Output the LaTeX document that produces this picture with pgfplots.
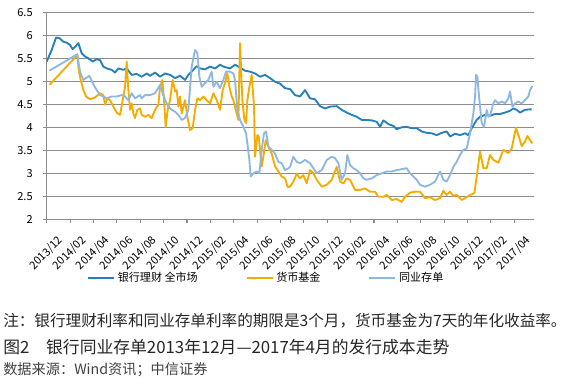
\documentclass[border=0pt]{standalone}
\usepackage{fontspec}
\setmainfont{Noto Sans CJK SC}
\usepackage{pgfplots}
\pgfplotsset{compat=1.18}
\definecolor{wmp}{RGB}{38,128,188}
\definecolor{mmf}{RGB}{245,172,0}
\definecolor{ncd}{RGB}{142,184,224}
\definecolor{gridc}{RGB}{140,140,140}
\begin{document}
\begin{tikzpicture}
\useasboundingbox (0pt,0pt) rectangle (428.25pt,-291.75pt);
\begin{axis}[
  at={(35.025pt,-164.475pt)}, anchor=south west,
  scale only axis, width=365.5pt, height=155.25pt,
  xmin=140, xmax=1602, ymin=2, ymax=6.5,
  axis x line*=bottom, axis y line*=left,
  axis line style={gridc, line width=0.8pt},
  ymajorgrids, grid style={gridc, line width=0.8pt},
  tick align=outside, major tick length=3pt,
  tick style={gridc, line width=0.8pt},
  ytick={2,2.5,3,3.5,4,4.5,5,5.5,6,6.5},
  yticklabels={2,2.5,3,3.5,4,4.5,5,5.5,6,6.5},
  xtick={140,210.14,280.28,350.42,420.56,490.7,560.84,630.98,701.12,771.26,841.4,911.54,981.68,1051.82,1121.96,1192.1,1262.24,1332.38,1402.52,1472.66,1542.8},
  xticklabels={2013/12,2014/02,2014/04,2014/06,2014/08,2014/10,2014/12,2015/02,2015/04,2015/06,2015/08,2015/10,2015/12,2016/02,2016/04,2016/06,2016/08,2016/10,2016/12,2017/02,2017/04},
  x tick label style={rotate=45, anchor=north east, inner sep=0pt, yshift=-11.5pt, xshift=-0.5pt, font=\fontsize{8.3}{9}\selectfont},
  y tick label style={font=\fontsize{8.3}{9}\selectfont, xshift=-4pt},
  /pgf/number format/assume math mode=true,
  legend columns=3,
  legend style={at={(0.0827,-0.282)}, anchor=west, draw=none, fill=none, inner sep=0pt,
    font=\fontsize{8.3}{10}\selectfont,
    /tikz/every even column/.append style={column sep=34pt}},
  legend image code/.code={\draw[#1, line width=1.4pt] (0pt,0pt) -- (19.5pt,0pt);},
  every axis plot/.append style={line width=1.4pt, line join=round},
]
\addplot[wmp, no markers] coordinates {
(140,5.43)(155,5.68)(168,5.95)(178,5.94)(190,5.86)(200,5.84)(210,5.79)(218,5.70)(225,5.75)(235,5.83)
(245,5.61)(255,5.54)(265,5.50)(278,5.43)(290,5.48)(300,5.46)(310,5.32)(320,5.28)(335,5.25)(345,5.19)
(355,5.28)(370,5.25)(380,5.28)(395,5.14)(410,5.16)(425,5.10)(440,5.17)(450,5.12)(465,5.19)(480,5.10)
(495,5.17)(510,5.14)(525,5.07)(540,5.12)(555,5.03)(565,5.14)(575,5.21)(590,5.33)(600,5.28)(615,5.26)
(630,5.32)(645,5.28)(660,5.36)(670,5.32)(690,5.28)(705,5.36)(720,5.30)(735,5.23)(750,5.21)(765,5.17)
(780,5.10)(795,5.14)(810,5.07)(825,4.99)(840,4.95)(855,4.85)(870,4.83)(885,4.70)(900,4.67)(915,4.81)
(930,4.63)(945,4.61)(960,4.46)(975,4.41)(990,4.45)(1010,4.46)(1025,4.38)(1040,4.32)(1055,4.27)(1070,4.23)
(1085,4.16)(1100,4.16)(1115,4.15)(1130,4.12)(1140,4.01)(1150,4.15)(1165,4.07)(1180,4.03)(1190,3.96)(1205,4.00)
(1220,4.01)(1235,3.98)(1250,3.98)(1265,3.91)(1280,3.88)(1295,3.87)(1310,3.83)(1325,3.88)(1340,3.91)(1350,3.80)
(1365,3.86)(1380,3.83)(1395,3.87)(1405,3.83)(1415,3.98)(1430,4.16)(1440,4.23)(1455,4.27)(1470,4.25)(1485,4.29)
(1500,4.29)(1515,4.32)(1530,4.36)(1540,4.41)(1550,4.38)(1560,4.32)(1575,4.38)(1590,4.39)(1595,4.39)
};
\addlegendentry{银行理财 全市场}
\addplot[mmf, no markers] coordinates {
(148,4.92)(232,5.57)(236,5.25)(242,5.03)(250,4.81)(258,4.67)(270,4.61)(285,4.65)(300,4.74)(310,4.70)
(315,4.49)(322,4.63)(330,4.59)(340,4.45)(350,4.32)(360,4.27)(368,4.59)(375,4.88)(380,5.43)(385,4.81)
(390,4.38)(395,4.52)(400,4.30)(405,4.20)(412,4.38)(420,4.41)(425,4.27)(435,4.23)(445,4.27)(455,4.20)
(465,4.38)(475,4.49)(480,4.88)(487,5.03)(492,4.59)(497,4.01)(503,4.38)(510,4.59)(518,5.03)(525,4.78)
(530,4.81)(535,4.45)(540,4.67)(545,4.30)(555,4.59)(562,4.23)(570,3.94)(578,3.98)(585,4.38)(592,4.63)
(600,4.59)(610,4.67)(620,4.59)(630,4.52)(640,4.74)(650,4.59)(660,4.38)(668,4.81)(675,4.96)(682,5.17)
(688,4.88)(695,4.67)(700,4.59)(710,4.30)(715,4.16)(720,5.83)(727,4.59)(733,4.16)(738,4.09)(742,4.59)
(748,4.88)(755,5.14)(762,4.45)(765,3.36)(772,3.83)(776,3.80)(780,3.51)(785,3.15)(790,3.36)(797,3.72)
(805,3.58)(815,3.43)(825,3.15)(835,3.04)(845,2.93)(855,2.89)(863,2.70)(870,2.71)(880,2.82)(890,2.99)
(900,2.89)(910,2.96)(920,2.78)(930,3.07)(940,3.00)(950,2.86)(965,2.71)(980,2.75)(995,2.86)(1010,3.14)
(1020,2.82)(1030,2.78)(1040,2.89)(1050,2.86)(1065,2.64)(1080,2.64)(1095,2.67)(1110,2.60)(1125,2.60)(1135,2.49)
(1150,2.49)(1160,2.53)(1175,2.42)(1190,2.44)(1205,2.38)(1215,2.49)(1230,2.58)(1245,2.60)(1260,2.60)(1275,2.46)
(1290,2.48)(1305,2.42)(1320,2.46)(1330,2.62)(1340,2.53)(1350,2.60)(1360,2.51)(1370,2.53)(1385,2.42)(1395,2.46)
(1410,2.53)(1423,2.57)(1430,2.93)(1440,3.47)(1450,3.11)(1460,3.11)(1470,3.40)(1480,3.29)(1495,3.23)(1510,3.51)
(1525,3.44)(1535,3.54)(1540,3.72)(1548,3.99)(1558,3.76)(1565,3.59)(1575,3.69)(1582,3.81)(1590,3.72)(1597,3.65)
};
\addlegendentry{货币基金}
\addplot[ncd, no markers] coordinates {
(148,5.23)(232,5.59)(236,5.39)(240,5.21)(250,5.03)(258,5.07)(268,5.12)(278,4.96)(290,4.81)(300,4.70)
(310,4.67)(320,4.63)(335,4.67)(350,4.67)(365,4.70)(375,4.67)(385,4.59)(395,4.74)(405,4.63)(420,4.70)
(425,4.63)(435,4.70)(450,4.70)(465,4.74)(480,4.92)(488,4.74)(495,4.59)(505,4.45)(515,4.38)(525,4.34)
(535,4.27)(545,4.16)(555,4.20)(565,4.38)(575,5.32)(585,5.68)(592,5.61)(598,5.10)(605,4.88)(615,4.96)
(625,5.03)(635,5.21)(640,4.88)(650,4.99)(660,4.85)(670,5.03)(678,5.21)(690,5.21)(700,5.17)(705,5.03)
(712,4.38)(720,4.16)(730,4.01)(738,3.87)(742,3.65)(748,3.29)(752,2.93)(760,3.00)(770,3.04)(778,3.00)
(785,3.51)(792,3.87)(798,3.91)(805,3.58)(815,3.51)(825,3.43)(835,3.25)(845,3.22)(855,3.07)(865,3.11)
(870,3.14)(880,3.36)(890,3.25)(900,3.22)(915,3.29)(930,3.22)(940,3.11)(950,3.00)(965,3.07)(980,3.29)
(995,3.36)(1005,3.33)(1015,3.22)(1025,2.86)(1035,3.00)(1042,3.40)(1050,3.18)(1060,3.11)(1070,3.07)(1080,3.00)
(1090,2.89)(1100,2.86)(1115,2.89)(1130,2.96)(1145,3.00)(1160,3.04)(1175,3.04)(1190,3.07)(1205,3.09)(1220,3.11)
(1230,3.00)(1240,2.93)(1250,2.86)(1260,2.75)(1275,2.71)(1290,2.75)(1305,2.82)(1320,3.04)(1330,2.86)(1340,2.82)
(1350,2.96)(1360,3.14)(1370,3.25)(1380,3.40)(1390,3.51)(1400,3.54)(1410,3.87)(1420,4.30)(1425,4.67)(1428,5.14)
(1432,5.10)(1436,4.75)(1440,4.45)(1445,4.09)(1452,4.01)(1460,4.38)(1465,4.23)(1470,4.26)(1480,4.52)(1485,4.59)
(1495,4.52)(1505,4.56)(1515,4.52)(1525,4.63)(1530,4.78)(1537,4.45)(1545,4.52)(1555,4.56)(1565,4.52)(1575,4.59)
(1585,4.67)(1590,4.81)(1597,4.90)
};
\addlegendentry{同业存单}
\end{axis}
\node[anchor=west, inner sep=0pt, text=black!85] at (2.25pt,-240.75pt) {\fontsize{11.7}{13}\selectfont 注：银行理财利率和同业存单利率的期限是3个月，货币基金为7天的年化收益率。};
\node[anchor=west, inner sep=0pt, text=black!85] at (2.25pt,-260.25pt) {\fontsize{12.6}{14}\selectfont 图2\quad 银行同业存单2013年12月—2017年4月的发行成本走势};
\node[anchor=west, inner sep=0pt, text=black!75] at (2.25pt,-277.5pt) {\fontsize{10.65}{12}\selectfont 数据来源：Wind资讯；中信证券};
\end{tikzpicture}
\end{document}
